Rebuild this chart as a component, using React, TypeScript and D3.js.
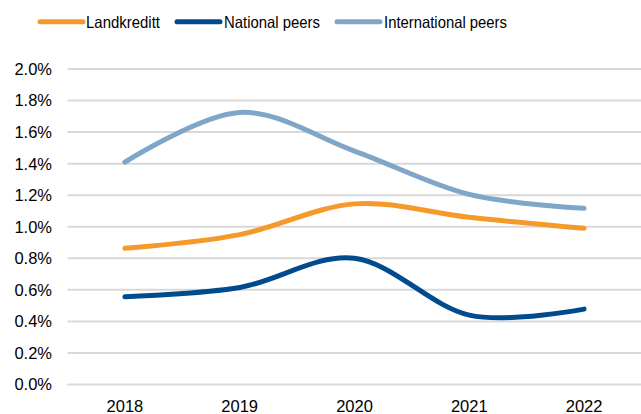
import React from "react";
import * as d3 from "d3";

// Chart data (values in %)
const years = ["2018", "2019", "2020", "2021", "2022"];
const landkreditt = [0.863, 0.95, 1.145, 1.06, 0.99];
const nationalPeers = [0.556, 0.615, 0.8, 0.44, 0.478];
const internationalPeers = [1.41, 1.725, 1.48, 1.205, 1.117];
const yTicks = [0, 0.2, 0.4, 0.6, 0.8, 1.0, 1.2, 1.4, 1.6, 1.8, 2.0];

const seriesNames = ["Landkreditt", "National peers", "International peers"];
const seriesColors = ["#f5992b", "#004b8d", "#7fa6c9"];

const width = 641;
const height = 414;
const margin = { top: 69, right: 0, bottom: 29.5, left: 67.5 };

const App: React.FC = () => {
  const x = d3
    .scalePoint<string>()
    .domain(years)
    .range([margin.left, width - margin.right + 0.5])
    .padding(0.5);

  const y = d3
    .scaleLinear()
    .domain([0, 2])
    .range([height - margin.bottom, margin.top]);

  const line = d3
    .line<number>()
    .x((_, i) => x(years[i]) as number)
    .y((d) => y(d))
    .curve(d3.curveCardinal);

  const allSeries = [landkreditt, nationalPeers, internationalPeers];

  // legend layout: line start x, text start x, text width
  const legendPos = [
    { x1: 40, tx: 86, tw: 74 },
    { x1: 177, tx: 224, tw: 96 },
    { x1: 337, tx: 384, tw: 123 },
  ];

  return (
    <div style={{ position: "absolute", left: 0, top: 0 }}>
      <svg width={width} height={height} style={{ display: "block", background: "#fff" }}>
        {/* gridlines */}
        <g>
          {yTicks.map((t) => (
            <line
              key={t}
              x1={margin.left}
              x2={width}
              y1={y(t)}
              y2={y(t)}
              stroke="#d9d9d9"
              strokeWidth={2}
            />
          ))}
        </g>

        {/* y-axis labels */}
        <g fontFamily="'Liberation Sans', Arial, sans-serif" fontSize={16.5} fill="#000">
          {yTicks.map((t) => (
            <text key={t} x={52} y={y(t)} dy="0.36em" textAnchor="end">
              {t.toFixed(1)}%
            </text>
          ))}
        </g>

        {/* x-axis labels */}
        <g fontFamily="'Liberation Sans', Arial, sans-serif" fontSize={16.5} fill="#000">
          {years.map((yr) => (
            <text key={yr} x={x(yr)} y={411.5} textAnchor="middle">
              {yr}
            </text>
          ))}
        </g>

        {/* series lines */}
        <g>
          {allSeries.map((s, i) => (
            <path
              key={seriesNames[i]}
              d={line(s) ?? ""}
              fill="none"
              stroke={seriesColors[i]}
              strokeWidth={5}
              strokeLinecap="round"
            />
          ))}
        </g>

        {/* legend */}
        <g fontFamily="'Liberation Sans', Arial, sans-serif" fontSize={16.5} fill="#000">
          {seriesNames.map((name, i) => (
            <g key={name}>
              <line
                x1={legendPos[i].x1}
                x2={legendPos[i].x1 + 43}
                y1={21.7}
                y2={21.7}
                stroke={seriesColors[i]}
                strokeWidth={5}
                strokeLinecap="round"
              />
              <text
                x={legendPos[i].tx}
                y={27.5}
                textLength={legendPos[i].tw}
                lengthAdjust="spacingAndGlyphs"
              >
                {name}
              </text>
            </g>
          ))}
        </g>
      </svg>
    </div>
  );
};

export default App;
